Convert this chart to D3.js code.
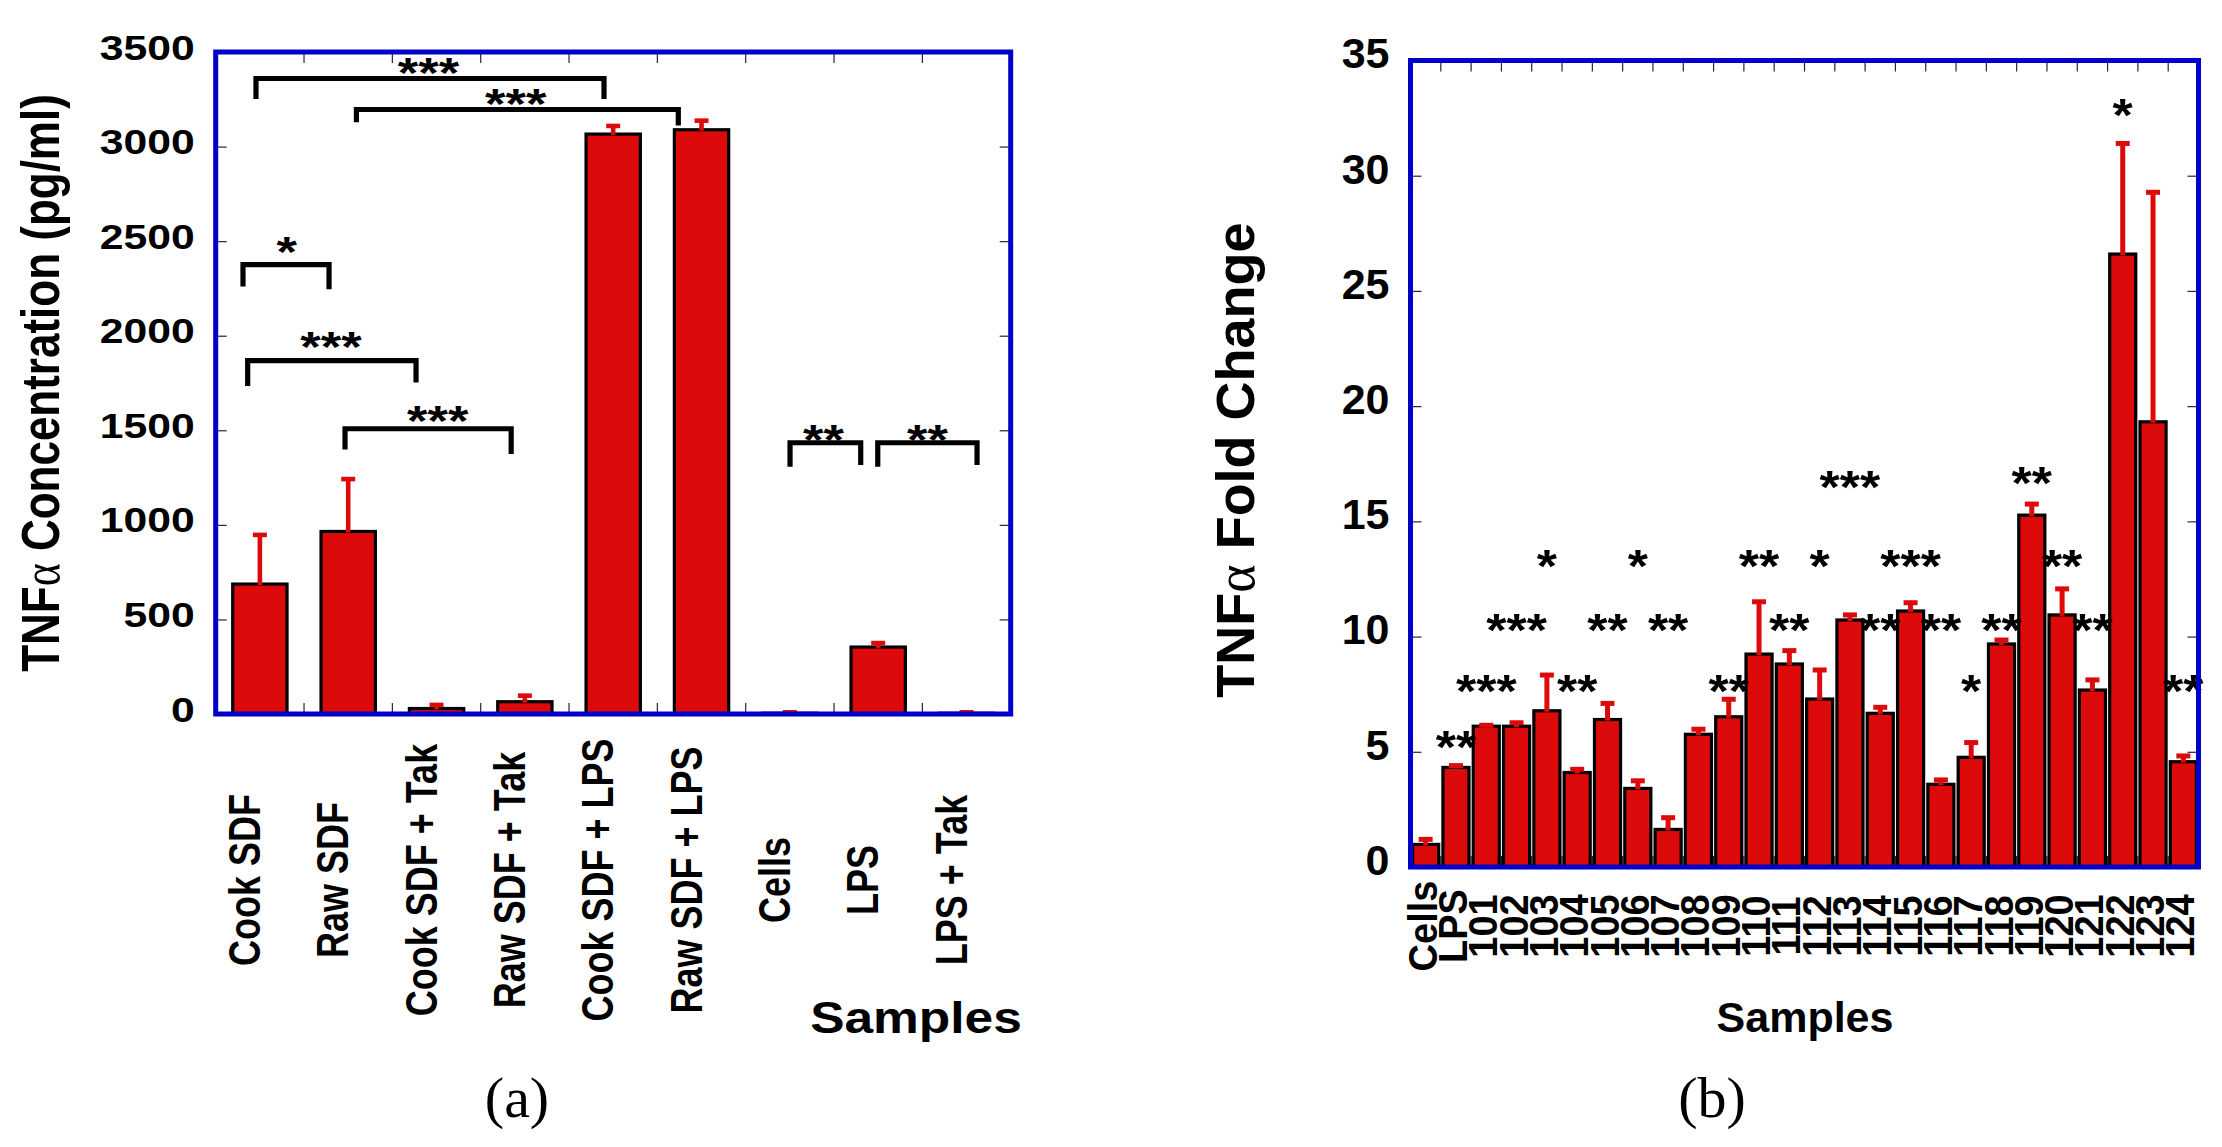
<!DOCTYPE html>
<html><head><meta charset="utf-8">
<script src="https://cdn.jsdelivr.net/npm/d3@7"></script>
<style>html,body{margin:0;padding:0;background:#fff;}svg{display:block;}</style>
</head><body>
<svg id="fig" width="2222" height="1147"></svg>
<script>
// ---------- Panel (a) data ----------
const catsA = ["Cook SDF","Raw SDF","Cook SDF + Tak","Raw SDF + Tak","Cook SDF + LPS","Raw SDF + LPS","Cells","LPS","LPS + Tak"];
const valsA = [687, 965, 29, 65, 3066, 3089, 4, 354, 4];
const errsA = [260, 277, 19, 32, 43, 48, 5, 21, 5];
const ticksA = [0, 500, 1000, 1500, 2000, 2500, 3000, 3500];
// significance brackets (x in category-index units, y in pg/ml)
const brLabelA = ["***", "***", "*", "***", "***", "**", "**"];
const brX1A = [-0.044, 1.093, -0.191, -0.138, 0.964, 6.002, 6.995];
const brX2A = [3.896, 4.737, 0.783, 1.768, 2.845, 6.802, 8.119];
const brYA = [3360, 3196, 2376, 1868, 1508, 1434, 1434];
const brLeg1A = [3252, 3129, 2260, 1734, 1399, 1307, 1307];
const brLeg2A = [3252, 3111, 2245, 1752, 1375, 1316, 1316];
const brStarXA = [1.909, 2.897, 0.305, 0.805, 2.013, 6.381, 7.558];
const brStarYA = [3437, 3274, 2491, 1991, 1599, 1497, 1497];

// ---------- Panel (b) data ----------
const catsB = ["Cells","LPS","101","102","103","104","105","106","107","108","109","110","111","112","113","114","115","116","117","118","119","120","121","122","123","124"];
const valsB = [0.98, 4.32, 6.11, 6.11, 6.78, 4.10, 6.40, 3.41, 1.63, 5.76, 6.52, 9.24, 8.81, 7.29, 10.72, 6.67, 11.11, 3.59, 4.76, 9.68, 15.27, 10.94, 7.68, 26.6, 19.32, 4.57];
const errsB = [0.22, 0.08, 0.04, 0.15, 1.55, 0.14, 0.70, 0.33, 0.51, 0.22, 0.76, 2.27, 0.58, 1.26, 0.22, 0.26, 0.36, 0.19, 0.64, 0.17, 0.48, 1.13, 0.44, 4.8, 9.96, 0.25];
const ticksB = [0, 5, 10, 15, 20, 25, 30, 35];
const starCatsB = ["LPS","101","102","103","104","105","106","107","109","110","111","112","113","114","115","116","117","118","119","120","121","122","124"];
const starLabelsB = ["**","***","***","*","**","**","*","**","**","**","**","*","***","**","***","**","*","**","**","**","**","*","**"];
const starLevelsB = [5.64, 8.07, 10.72, 13.5, 8.07, 10.72, 13.5, 10.72, 8.07, 13.5, 10.72, 13.5, 16.93, 10.72, 13.5, 10.72, 8.07, 10.72, 17.1, 13.5, 10.72, 33.07, 8.07];

// ---------- styling ----------
const SANS = "'Liberation Sans', Arial, Helvetica, sans-serif";
const SERIF = "'Liberation Serif', 'Times New Roman', serif";
const RED = "#dc0a0a";
const BLUE = "#0000c8";
const svg = d3.select("#fig");

function panel(o) {
  const g = svg.append("g");
  const x = d3.scaleBand().domain(o.cats).range([o.left, o.right])
    .paddingInner(o.pad).paddingOuter(o.pad / 2);
  const y = d3.scaleLinear().domain([0, o.ymax]).range([o.bottom, o.top]);
  const xi = d3.scaleLinear().domain([-0.5, o.cats.length - 0.5]).range([o.left, o.right]);
  const bw = x.bandwidth();
  const cx = c => x(c) + bw / 2;

  // category boundary ticks (top and bottom, inward)
  const bounds = o.cats.slice(0, -1).map((c, i) => (cx(c) + cx(o.cats[i + 1])) / 2);
  g.append("g").selectAll("line").data(bounds).join("line")
    .attr("x1", d => d).attr("x2", d => d).attr("y1", o.top).attr("y2", o.top + 11)
    .attr("stroke", "#222244").attr("stroke-width", 1.2);
  g.append("g").selectAll("line").data(bounds).join("line")
    .attr("x1", d => d).attr("x2", d => d).attr("y1", o.bottom).attr("y2", o.bottom - 11)
    .attr("stroke", "#222244").attr("stroke-width", 1.2);

  // y axes (left with labels, right ticks only), inward ticks
  const axL = g.append("g").attr("transform", `translate(${o.left},0)`)
    .call(d3.axisLeft(y).tickValues(o.ticks).tickSize(-11).tickPadding(0).tickFormat(d3.format("d")));
  axL.select(".domain").remove();
  axL.selectAll(".tick line").attr("stroke", "#222244").attr("stroke-width", 1.2);
  axL.selectAll(".tick text")
    .attr("font-family", SANS).attr("font-weight", "bold").attr("font-size", o.tickFont)
    .attr("fill", "#000").attr("x", -o.tickGap / o.tickSx).attr("dy", o.tickDy)
    .attr("transform", `scale(${o.tickSx},1)`);
  const axR = g.append("g").attr("transform", `translate(${o.right},0)`)
    .call(d3.axisRight(y).tickValues(o.ticks).tickSize(-11).tickFormat(""));
  axR.select(".domain").remove();
  axR.selectAll(".tick line").attr("stroke", "#222244").attr("stroke-width", 1.2);

  // bars
  g.append("g").selectAll("rect").data(o.cats).join("rect")
    .attr("x", c => x(c)).attr("width", bw)
    .attr("y", (c, i) => y(o.vals[i])).attr("height", (c, i) => y(0) - y(o.vals[i]))
    .attr("fill", RED).attr("stroke", "#000").attr("stroke-width", 3.2);

  // error bars
  const eg = g.append("g").attr("stroke", RED).attr("stroke-width", o.errW);
  eg.selectAll("line.stem").data(o.cats).join("line").attr("class", "stem")
    .attr("x1", c => cx(c)).attr("x2", c => cx(c))
    .attr("y1", (c, i) => y(o.vals[i]) + 1).attr("y2", (c, i) => y(o.vals[i] + o.errs[i]));
  eg.selectAll("line.cap").data(o.cats).join("line").attr("class", "cap")
    .attr("x1", c => cx(c) - o.capW / 2).attr("x2", c => cx(c) + o.capW / 2)
    .attr("y1", (c, i) => y(o.vals[i] + o.errs[i])).attr("y2", (c, i) => y(o.vals[i] + o.errs[i]));

  // category labels (rotated)
  g.append("g").selectAll("text").data(o.cats).join("text")
    .attr("transform", c => `translate(${cx(c) + o.labShift},${o.labY}) scale(${o.labSx},1) rotate(-90)`)
    .attr("text-anchor", "middle").attr("font-family", SANS).attr("font-weight", "bold")
    .attr("font-size", o.labFont).attr("fill", "#000").text(c => c);

  return { g, x, y, xi, cx, bw };
}

// ---------- Panel (a) ----------
const A = panel({
  cats: catsA, vals: valsA, errs: errsA, ticks: ticksA, ymax: 3500,
  left: 215.7, right: 1010.7, top: 52, bottom: 714, pad: 0.385,
  tickFont: 35, tickSx: 1.22, tickGap: 21, tickDy: "0.2em",
  errW: 4.6, capW: 14,
  labFont: 36, labSx: 1.22, labShift: 0, labY: 880
});
// brackets
const brG = A.g.append("g").attr("fill", "none").attr("stroke", "#000").attr("stroke-width", 5.2)
  .attr("stroke-linejoin", "miter").attr("stroke-linecap", "butt");
brLabelA.forEach((lab, i) => {
  const x1 = A.xi(brX1A[i]), x2 = A.xi(brX2A[i]), yy = A.y(brYA[i]);
  brG.append("path").attr("d",
    `M${x1},${A.y(brLeg1A[i])}L${x1},${yy}L${x2},${yy}L${x2},${A.y(brLeg2A[i])}`);
});
A.g.append("g").selectAll("text").data(brLabelA).join("text")
  .attr("transform", (d, i) => `translate(${A.xi(brStarXA[i])},${A.y(brStarYA[i]) + 0.56 * 42}) scale(1.25,1)`)
  .attr("text-anchor", "middle").attr("font-family", SANS).attr("font-weight", "bold")
  .attr("font-size", 42).attr("fill", "#000").text(d => d);
// border
A.g.append("rect").attr("x", 215.7).attr("y", 52).attr("width", 1010.7 - 215.7).attr("height", 714 - 52)
  .attr("fill", "none").attr("stroke", BLUE).attr("stroke-width", 5);
// axis titles
const tA = A.g.append("text").attr("transform", "translate(59,383) scale(1.2,1) rotate(-90)")
  .attr("text-anchor", "middle").attr("font-family", SANS).attr("font-weight", "bold")
  .attr("font-size", 44).attr("fill", "#000");
tA.append("tspan").text("TNF");
tA.append("tspan").attr("font-family", SERIF).attr("font-weight", "normal").text("α");
tA.append("tspan").text(" Concentration (pg/ml)");
A.g.append("text").attr("transform", "translate(916,1033) scale(1.17,1)")
  .attr("text-anchor", "middle").attr("font-family", SANS).attr("font-weight", "bold")
  .attr("font-size", 44).attr("fill", "#000").text("Samples");

// ---------- Panel (b) ----------
const B = panel({
  cats: catsB, vals: valsB, errs: errsB, ticks: ticksB, ymax: 35,
  left: 1410.5, right: 2198.5, top: 60.5, bottom: 867, pad: 0.14,
  tickFont: 43, tickSx: 1, tickGap: 21, tickDy: "0.17em",
  errW: 5, capW: 14,
  labFont: 38, labSx: 1.08, labShift: 11, labY: 926
});
B.g.append("g").selectAll("text").data(starCatsB).join("text")
  .attr("transform", (c, i) => `translate(${B.cx(c)},${B.y(starLevelsB[i]) + 0.56 * 46}) scale(1.13,1)`)
  .attr("text-anchor", "middle").attr("font-family", SANS).attr("font-weight", "bold")
  .attr("font-size", 46).attr("fill", "#000").text((c, i) => starLabelsB[i]);
B.g.append("rect").attr("x", 1410.5).attr("y", 60.5).attr("width", 2198.5 - 1410.5).attr("height", 867 - 60.5)
  .attr("fill", "none").attr("stroke", BLUE).attr("stroke-width", 5);
const tB = B.g.append("text").attr("transform", "translate(1254,460) rotate(-90)")
  .attr("text-anchor", "middle").attr("font-family", SANS).attr("font-weight", "bold")
  .attr("font-size", 54).attr("fill", "#000");
tB.append("tspan").text("TNF");
tB.append("tspan").attr("font-family", SERIF).attr("font-weight", "normal").text("α");
tB.append("tspan").text(" Fold Change");
B.g.append("text").attr("x", 1805).attr("y", 1032)
  .attr("text-anchor", "middle").attr("font-family", SANS).attr("font-weight", "bold")
  .attr("font-size", 43).attr("fill", "#000").text("Samples");

// ---------- sub-figure captions ----------
svg.append("text").attr("x", 517).attr("y", 1117).attr("text-anchor", "middle")
  .attr("font-family", SERIF).attr("font-size", 58).attr("fill", "#000").text("(a)");
svg.append("text").attr("x", 1712).attr("y", 1117).attr("text-anchor", "middle")
  .attr("font-family", SERIF).attr("font-size", 58).attr("fill", "#000").text("(b)");
</script>
</body></html>
